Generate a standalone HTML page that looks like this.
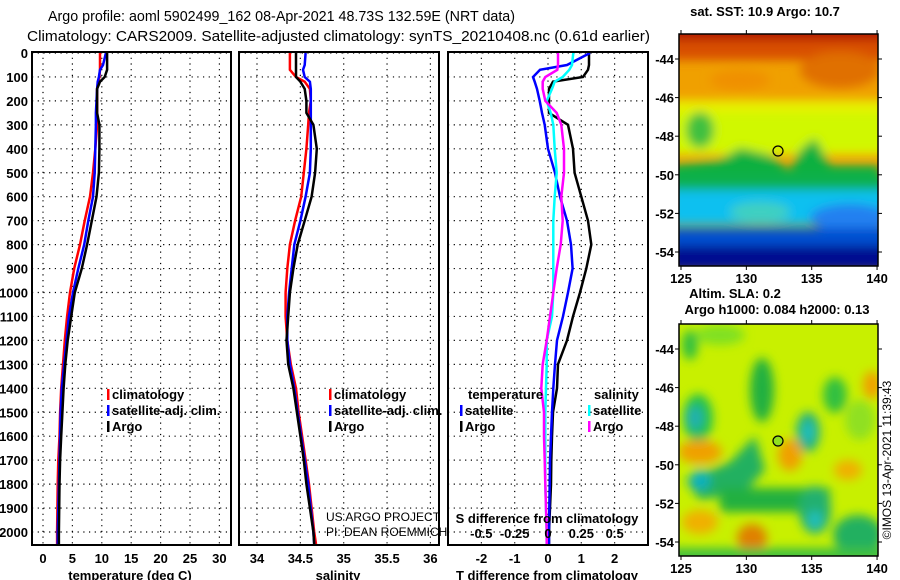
<!DOCTYPE html>
<html><head><meta charset="utf-8"><style>
body{margin:0;background:#fff;}
svg{display:block;font-family:"Liberation Sans",sans-serif;}
.b{font-weight:bold;font-size:13px;}
</style></head><body>
<svg id="chart" width="900" height="580" viewBox="0 0 900 580">
<defs>
<filter id="bl" x="-50%" y="-50%" width="200%" height="200%"><feGaussianBlur stdDeviation="5"/></filter>
<clipPath id="c1"><rect x="679" y="34" width="199" height="232"/></clipPath>
<clipPath id="c2"><rect x="679" y="324" width="199" height="232"/></clipPath>
</defs>
<text x="48" y="21" font-size="15" textLength="467" lengthAdjust="spacingAndGlyphs">Argo profile: aoml 5902499_162 08-Apr-2021 48.73S 132.59E (NRT data)</text>
<text x="27" y="41" font-size="15" textLength="623" lengthAdjust="spacingAndGlyphs">Climatology: CARS2009. Satellite-adjusted climatology: synTS_20210408.nc (0.61d earlier)</text>
<g id="panels"></g>
<!-- SST map -->
<g clip-path="url(#c1)">
<rect x="679" y="34" width="199" height="232" fill="#f0a000"/>
<g filter="url(#bl)">
<rect x="670" y="25" width="220" height="18" fill="#b01000"/>
<rect x="670" y="40" width="220" height="20" fill="#d85000"/>
<ellipse cx="840" cy="70" rx="40" ry="18" fill="#e07000"/>
<ellipse cx="740" cy="80" rx="30" ry="10" fill="#f09000"/>
<rect x="670" y="100" width="220" height="55" fill="#e8f000"/>
<rect x="670" y="112" width="220" height="40" fill="#d0f800"/>
<ellipse cx="700" cy="130" rx="14" ry="18" fill="#40c040"/>
<path d="M670 165 L720 160 L740 148 L770 155 L790 170 L800 150 L815 138 L830 165 L880 165 L880 180 L670 180Z" fill="#10b040"/>
<rect x="670" y="175" width="220" height="15" fill="#10b050"/>
<rect x="670" y="190" width="220" height="35" fill="#10c0f0"/>
<ellipse cx="760" cy="212" rx="30" ry="10" fill="#40d0c0"/>
<ellipse cx="850" cy="218" rx="40" ry="14" fill="#2080f0"/>
<rect x="670" y="228" width="220" height="18" fill="#0050d0"/>
<rect x="670" y="246" width="220" height="25" fill="#001090"/>
</g>
<circle cx="778" cy="151" r="5" fill="none" stroke="#000" stroke-width="1.2"/>
</g>
<rect x="679" y="34" width="199" height="232" fill="none" stroke="#000" stroke-width="1.5"/>
<text x="765" y="16" class="b" text-anchor="middle">sat. SST: 10.9 Argo: 10.7</text>
<!-- SLA map -->
<g clip-path="url(#c2)">
<rect x="679" y="324" width="199" height="232" fill="#c8f000"/>
<g filter="url(#bl)">
<ellipse cx="720" cy="335" rx="25" ry="10" fill="#80e020"/>
<ellipse cx="690" cy="345" rx="8" ry="15" fill="#30c040"/>
<ellipse cx="762" cy="390" rx="12" ry="32" fill="#20b040"/>
<ellipse cx="835" cy="395" rx="12" ry="18" fill="#30c040"/>
<ellipse cx="860" cy="420" rx="15" ry="20" fill="#90e020"/>
<ellipse cx="698" cy="418" rx="15" ry="24" fill="#20c050"/>
<ellipse cx="695" cy="418" rx="8" ry="12" fill="#20b0b0"/>
<ellipse cx="808" cy="432" rx="12" ry="20" fill="#20b080"/>
<ellipse cx="808" cy="432" rx="6" ry="10" fill="#20c0c0"/>
<ellipse cx="700" cy="452" rx="22" ry="12" fill="#f0a000"/>
<ellipse cx="790" cy="455" rx="12" ry="16" fill="#f0a000"/>
<ellipse cx="848" cy="470" rx="14" ry="10" fill="#f0b000"/>
<ellipse cx="872" cy="385" rx="9" ry="14" fill="#f0a000"/>
<path d="M685 480 L730 462 L755 436 L765 470 L745 492 L700 500Z" fill="#20b060"/>
<ellipse cx="700" cy="480" rx="10" ry="10" fill="#10b0c0"/>
<rect x="720" y="488" width="110" height="24" fill="#20b040"/>
<ellipse cx="815" cy="510" rx="16" ry="24" fill="#20b070"/>
<ellipse cx="815" cy="520" rx="7" ry="9" fill="#20c0c0"/>
<ellipse cx="700" cy="522" rx="18" ry="12" fill="#f0b000"/>
<ellipse cx="752" cy="538" rx="15" ry="14" fill="#e08000"/>
<ellipse cx="858" cy="535" rx="25" ry="20" fill="#20b060"/>
<rect x="670" y="548" width="220" height="15" fill="#40c040"/>
</g>
<circle cx="778" cy="441" r="5" fill="#90e020" stroke="#000" stroke-width="1.2"/>
</g>
<rect x="679" y="324" width="199" height="232" fill="none" stroke="#000" stroke-width="1.5"/>
<text x="735" y="298" class="b" text-anchor="middle">Altim. SLA: 0.2</text>
<text x="777" y="314" class="b" text-anchor="middle">Argo h1000: 0.084 h2000: 0.13</text>
<g id="maps-axes"></g>
<text transform="translate(891,460) rotate(-90)" font-size="12" text-anchor="middle">©IMOS 13-Apr-2021 11:39:43</text>
</svg>
<script>
const depths = [0,50,70,100,120,150,200,250,300,400,500,600,700,800,900,1000,1100,1200,1300,1400,1500,1600,1700,1800,1900,2000,2050];
const tempArgo = [10.9,10.9,10.9,10.5,9.7,9.2,9.2,9.2,9.6,9.6,9.5,9.1,8.3,7.5,6.6,5.4,4.8,4.2,3.8,3.5,3.3,3.1,2.9,2.8,2.75,2.7,2.7];
const tempClim = [9.7,9.7,9.7,9.6,9.4,9.2,9.2,9.2,9.2,8.9,8.5,8.0,7.1,6.3,5.3,4.6,4.1,3.7,3.4,3.1,2.9,2.8,2.6,2.5,2.45,2.4,2.4];
const tempSat = [10.7,10.2,9.7,9.5,9.3,9.2,9.1,9.0,9.0,8.9,8.8,8.5,7.7,7.0,6.0,5.1,4.4,4.0,3.6,3.2,3.0,2.9,2.8,2.7,2.6,2.5,2.5];
const salArgo = [34.45,34.45,34.45,34.45,34.5,34.55,34.57,34.57,34.65,34.69,34.67,34.63,34.55,34.47,34.42,34.38,34.36,34.34,34.36,34.42,34.46,34.5,34.54,34.57,34.61,34.65,34.66];
const salClim = [34.38,34.38,34.38,34.45,34.55,34.61,34.62,34.6,34.59,34.57,34.54,34.51,34.44,34.38,34.35,34.33,34.33,34.35,34.39,34.45,34.48,34.52,34.56,34.6,34.63,34.66,34.68];
const salSat = [34.56,34.55,34.53,34.55,34.61,34.62,34.62,34.62,34.62,34.62,34.61,34.56,34.5,34.43,34.4,34.37,34.35,34.35,34.38,34.43,34.47,34.51,34.55,34.59,34.62,34.65,34.66];
const dTArgo = [1.23,1.23,1.2,1.05,0.15,0.03,0.03,0.03,0.6,0.75,0.8,1.0,1.2,1.3,1.15,0.96,0.75,0.57,0.3,0.27,0.15,0.12,0.1,0.09,0.06,0.03,0.03];
const dTSat = [1.26,0.57,-0.24,-0.45,-0.4,-0.33,-0.25,-0.18,-0.1,0.0,0.21,0.36,0.57,0.69,0.74,0.6,0.45,0.27,0.21,0.16,0.12,0.09,0.06,0.05,0.04,0.03,0.03];
const dSSat = [0.19,0.18,0.16,0.11,0.05,0.03,-0.01,0.02,0.04,0.05,0.065,0.05,0.04,0.04,0.04,0.04,0.03,-0.01,-0.01,-0.015,-0.02,-0.02,-0.02,-0.02,-0.015,-0.01,-0.01];
const dSArgo = [0.075,0.075,0.07,-0.02,-0.04,-0.04,-0.02,0.065,0.1,0.12,0.12,0.1,0.11,0.095,0.065,0.04,0.015,-0.01,-0.04,-0.05,-0.03,-0.03,-0.025,-0.02,-0.015,-0.01,-0.01];
const depthTicks = [0,100,200,300,400,500,600,700,800,900,1000,1100,1200,1300,1400,1500,1600,1700,1800,1900,2000];
const tempTicks = [0,5,10,15,20,25,30];
const salTicks = [34,34.5,35,35.5,36];
const salTickLabels = ["34","34.5","35","35.5","36"];
const dTTicks = [-2,-1,0,1,2];
const dSTicks = [-0.5,-0.25,0,0.25,0.5];
const dSTickLabels = ["-0.5","-0.25","0","0.25","0.5"];
const latTicks = [-44,-46,-48,-50,-52,-54];
const lonTicks = [125,130,135,140];

const NS="http://www.w3.org/2000/svg";
const g=document.getElementById('panels');
const yD=d=>53+0.2395*d;
const xT=t=>43+5.88*t;
const xS=s=>257+86.7*(s-34);
const xDT=t=>548+33.3*t;
const xDS=s=>548+133.3*s;
function mk(tag,attrs,parent){const e=document.createElementNS(NS,tag);for(const k in attrs)e.setAttribute(k,attrs[k]);(parent||g).appendChild(e);return e;}
function txt(x,y,s,anchor,cls,size){const e=mk('text',{x:x,y:y,'text-anchor':anchor||'start','font-weight':cls==='n'?'normal':'bold','font-size':size||13});e.textContent=s;return e;}
const panels=[{x0:32,x1:231,name:'temperature'},{x0:239,x1:439,name:'salinity'},{x0:448,x1:648,name:'difference'}];
const gridX=[tempTicks.map(xT),salTicks.map(xS),dTTicks.map(xDT)];
panels.forEach((p,i)=>{
  depthTicks.forEach(d=>{const l=mk('line',{x1:p.x0,x2:p.x1,y1:yD(d),y2:yD(d),stroke:'#000','stroke-width':1.2,'stroke-dasharray':'1.2 4.5'});
    
    });
  gridX[i].forEach(x=>{const l=mk('line',{x1:x,x2:x,y1:52,y2:545,stroke:'#000','stroke-width':1.2,'stroke-dasharray':'1.2 4.5'});
    
    });
});
function series(xs,xf,color,name){
  const pts=depths.map((d,i)=>xf(xs[i]).toFixed(1)+','+yD(d).toFixed(1)).join(' ');
  const pl=mk('polyline',{points:pts,fill:'none',stroke:color,'stroke-width':2.5});
  
  
}
series(tempClim,xT,'#f00','temp-climatology-line');
series(tempSat,xT,'#00f','temp-satellite-line');
series(tempArgo,xT,'#000','temp-argo-line');
series(salClim,xS,'#f00','sal-climatology-line');
series(salSat,xS,'#00f','sal-satellite-line');
series(salArgo,xS,'#000','sal-argo-line');
series(dTArgo,xDT,'#000','dT-argo-line');
series(dTSat,xDT,'#00f','dT-satellite-line');
series(dSSat,xDS,'#0ff','dS-satellite-line');
series(dSArgo,xDS,'#f0f','dS-argo-line');
mk('rect',{x:0,y:545.5,width:660,height:35,fill:'#fff'});
panels.forEach(p=>{const r=mk('rect',{x:p.x0,y:52,width:p.x1-p.x0,height:493,fill:'none',stroke:'#000','stroke-width':2});
  
  });
depthTicks.forEach(d=>{const t=txt(28,yD(d)+5,String(d),'end');
  
  });
tempTicks.forEach(v=>{const t=txt(xT(v),563,String(v),'middle');
  
  });
salTicks.forEach((v,i)=>{const t=txt(xS(v),563,salTickLabels[i],'middle');
  
  });
dTTicks.forEach(v=>{const t=txt(xDT(v),563,String(v),'middle');
  
  });
dSTicks.forEach((v,i)=>{const t=txt(xDS(v),538,dSTickLabels[i],'middle');
  
  });
let t;
t=txt(130,580,'temperature (deg C)','middle');
t=txt(338,580,'salinity','middle');
t=txt(547,580,'T difference from climatology','middle');
t=txt(547,523,'S difference from climatology','middle');
t=txt(326,521,'US ARGO PROJECT','start','n',12);
t=txt(326,536,'PI: DEAN ROEMMICH','start','n',12);
function leg(x,y,color,label,name){
  const m=mk('rect',{x:x,y:y-10,width:2.5,height:11,fill:color});
  
  
  const l=txt(x+5,y,label,'start');
  
  
}
leg(107,399,'#f00','climatology','legend-temp-climatology');
leg(107,415,'#00f','satellite-adj. clim.','legend-temp-satellite');
leg(107,431,'#000','Argo','legend-temp-argo');
leg(329,399,'#f00','climatology','legend-sal-climatology');
leg(329,415,'#00f','satellite-adj. clim.','legend-sal-satellite');
leg(329,431,'#000','Argo','legend-sal-argo');
t=txt(468,399,'temperature','start');
t=txt(594,399,'salinity','start');
leg(460,415,'#00f','satellite','legend-dT-satellite');
leg(460,431,'#000','Argo','legend-dT-argo');
leg(588,415,'#0ff','satellite','legend-dS-satellite');
leg(588,431,'#f0f','Argo','legend-dS-argo');
const ma=document.getElementById('maps-axes');
[[34,266],[324,556]].forEach(([top,bot],mi)=>{
  const yL=lat=>top+25+19.3*(-44-lat);
  const xL=lon=>681+13.07*(lon-125);
  latTicks.forEach(lat=>{const e=mk('text',{x:674,y:yL(lat)+5,'text-anchor':'end','font-weight':'bold','font-size':13},ma);e.textContent=String(lat);
    
    
    mk('line',{x1:675,x2:679,y1:yL(lat),y2:yL(lat),stroke:'#000'},ma);
    mk('line',{x1:878,x2:882,y1:yL(lat),y2:yL(lat),stroke:'#000'},ma);});
  lonTicks.forEach(lon=>{const e=mk('text',{x:xL(lon),y:bot+17,'text-anchor':'middle','font-weight':'bold','font-size':13},ma);e.textContent=String(lon);
    
    
    mk('line',{x1:xL(lon),x2:xL(lon),y1:bot,y2:bot+4,stroke:'#000'},ma);
    mk('line',{x1:xL(lon),x2:xL(lon),y1:top-4,y2:top,stroke:'#000'},ma);});
});
</script>
</body></html>
